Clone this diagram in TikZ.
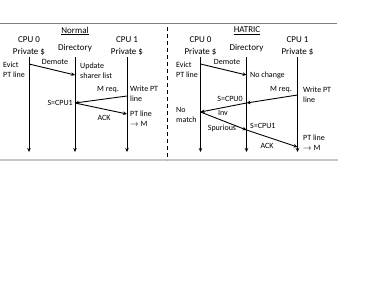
\documentclass[tikz,border=0pt]{standalone}
\usepackage{fontspec}
\setmainfont{Carlito}
\usetikzlibrary{arrows.meta}

\begin{document}
\begin{tikzpicture}[
x=1pt,y=-1pt,
head/.style={align=center,font=\fontsize{9}{12}\selectfont,inner sep=0pt},
lbl/.style={font=\fontsize{8}{10}\selectfont,inner sep=0pt},
note/.style={lbl,align=left,anchor=west},
life/.style={-{Stealth[length=4pt,width=3.5pt]},line width=0.9pt},
msg/.style={-{Stealth[length=4pt,width=3.5pt]},line width=0.9pt}
]
\useasboundingbox (0,0) rectangle (374,289);
% frame and divider
\draw[gray,line width=1pt] (0,23) -- (337,23);
\draw[gray!45,line width=1.5pt] (0,160) -- (338,160);
\draw[line width=1pt,dash pattern=on 4pt off 3pt] (167,27) -- (167,160);

% ---- Normal ----
\node[head] (titleN) at (75,31) {\underline{Normal}};
\node[head] (cpu0N) at (29,46) {CPU 0\\Private \$};
\node[head] (dirN) at (75,48) {Directory};
\node[head] (cpu1N) at (127,46) {CPU 1\\Private \$};

\coordinate (c0N) at (29,57);  \coordinate (c0Nend) at (29,152);
\coordinate (dN) at (75,57);   \coordinate (dNend) at (75,152);
\coordinate (c1N) at (127,57); \coordinate (c1Nend) at (127,152);
\draw[life] (c0N) -- (c0Nend);
\draw[life] (dN) -- (dNend);
\draw[life] (c1N) -- (c1Nend);

\coordinate (demN1) at (29,64);  \coordinate (demN2) at (75,75);
\coordinate (mreqN1) at (127,96); \coordinate (mreqN2) at (75,103);
\coordinate (ackN) at (127,114);
\draw[msg] (demN1) -- (demN2);
\draw[msg] (mreqN1) -- (mreqN2);
\draw[msg] (mreqN2) -- (ackN);

\node[note] (evictN) at (3,70) {Evict\\PT line};
\node[lbl] (demlN) at (55,62) {Demote};
\node[note] (updN) at (80,71) {Update\\sharer list};
\node[lbl] (mreqlN) at (108,90) {M req.};
\node[note] (writeN) at (130,94) {Write PT\\line};
\node[lbl,anchor=east] (sN) at (73,103) {S=CPU1};
\node[lbl] (acklN) at (104,118) {ACK};
\node[note] (ptN) at (130,119) {PT line\\$\rightarrow$ M};

% ---- HATRIC ----
\node[head] (titleH) at (247,31) {\underline{HATRIC}};
\node[head] (cpu0H) at (200.5,46) {CPU 0\\Private \$};
\node[head] (dirH) at (246.5,48) {Directory};
\node[head] (cpu1H) at (297.5,46) {CPU 1\\Private \$};

\coordinate (c0H) at (200.5,57);  \coordinate (c0Hend) at (200.5,152);
\coordinate (dH) at (246.5,57);   \coordinate (dHend) at (246.5,152);
\coordinate (c1H) at (297.5,57);  \coordinate (c1Hend) at (297.5,152);
\draw[life] (c0H) -- (c0Hend);
\draw[life] (dH) -- (dHend);
\draw[life] (c1H) -- (c1Hend);

\coordinate (demH1) at (200.5,64);  \coordinate (demH2) at (246.5,75);
\coordinate (mreqH1) at (297.5,95); \coordinate (mreqH2) at (246.5,103);
\coordinate (invH) at (200.5,112);
\coordinate (spurH) at (246.5,130);
\coordinate (ackH) at (297.5,147);
\draw[msg] (demH1) -- (demH2);
\draw[msg] (mreqH1) -- (mreqH2);
\draw[msg] (mreqH2) -- (invH);
\draw[msg] (invH) -- (spurH);
\draw[msg] (spurH) -- (ackH);

\node[note] (evictH) at (176,70) {Evict\\PT line};
\node[lbl] (demlH) at (227,62) {Demote};
\node[note] (nochH) at (250,75) {No change};
\node[lbl] (mreqlH) at (281,90) {M req.};
\node[note] (writeH) at (303,94.5) {Write PT\\line};
\node[lbl] (s0H) at (230,99) {S=CPU0};
\node[lbl] (invlH) at (223,113) {Inv};
\node[note] (nomH) at (176,114.5) {No\\match};
\node[lbl] (spurlH) at (222,128) {Spurious};
\node[note] (s1H) at (250,126) {S=CPU1};
\node[lbl] (acklH) at (267,146) {ACK};
\node[note] (ptH) at (303,143) {PT line\\$\rightarrow$ M};
\end{tikzpicture}
\end{document}
